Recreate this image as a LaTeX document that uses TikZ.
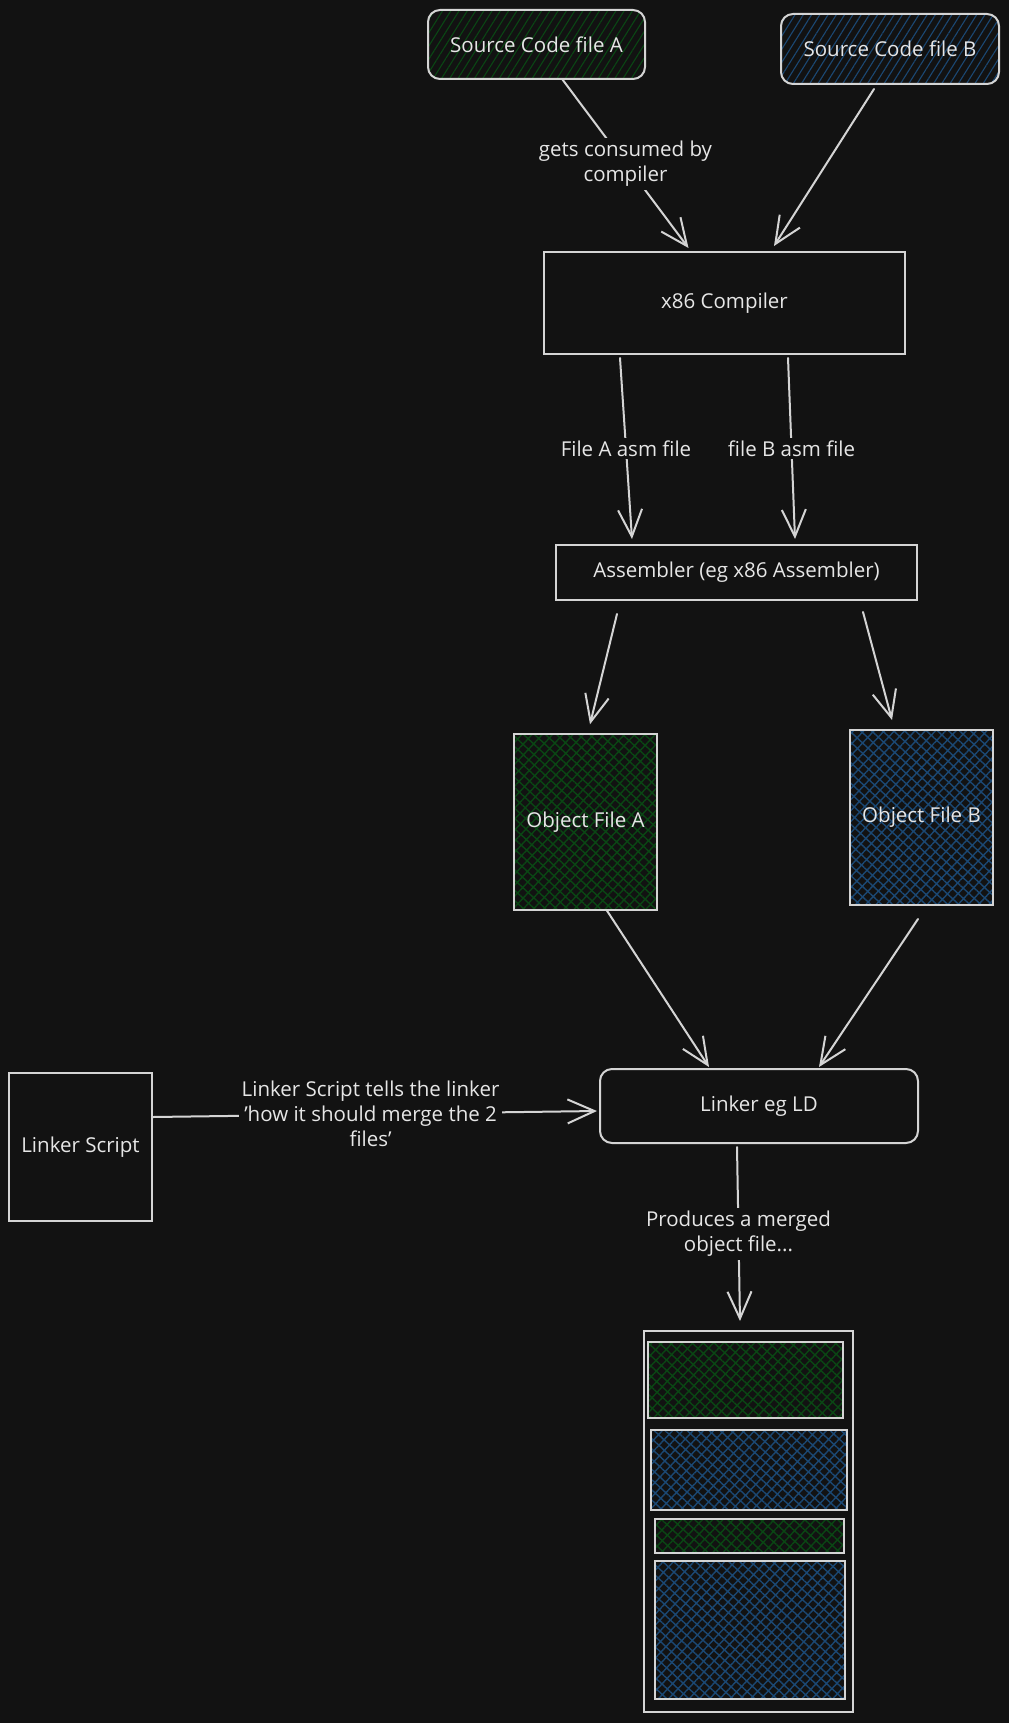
\documentclass[tikz,border=0pt]{standalone}
\usepackage{fontspec}
\setmainfont{Open Sans}
\usetikzlibrary{arrows.meta,patterns.meta,calc}
\definecolor{bgc}{HTML}{121212}
\definecolor{strk}{HTML}{D4D4D4}
\definecolor{txt}{HTML}{E6E6E6}
\definecolor{hgreen}{HTML}{0A4614}
\definecolor{hblue}{HTML}{1B4873}
\tikzset{
  box/.style={draw=strk, line width=2pt, text=txt, inner sep=0pt,
    font=\fontsize{20.5}{25}\selectfont, align=center},
  rbox/.style={box, rounded corners=12pt},
  linesgreen/.style={pattern={Lines[angle=58,distance=7pt,line width=1.1pt]}, pattern color=hgreen},
  linesblue/.style={pattern={Lines[angle=58,distance=7pt,line width=1.1pt]}, pattern color=hblue},
  hatchgreen/.style={pattern={Hatch[angle=47,distance=7.5pt,line width=1.4pt]}, pattern color=hgreen},
  hatchblue/.style={pattern={Hatch[angle=47,distance=7.5pt,line width=1.4pt]}, pattern color=hblue},
  arr/.style={draw=strk, line width=2pt, line cap=round,
    -{Straight Barb[length=27pt,width=24pt,line width=2pt]}},
  lbl/.style={fill=bgc, text=txt, inner sep=3pt, align=center,
    font=\fontsize{20.5}{25}\selectfont},
}
\begin{document}
\begin{tikzpicture}[x=1pt,y=-1pt]
\fill[bgc] (0,0) rectangle (1009,1723);
\useasboundingbox (0,0) rectangle (1009,1723);

\node[rbox, linesgreen, minimum width=217pt, minimum height=69pt] (srcA) at (536.5,44.5) {Source Code file A};
\node[rbox, linesblue, minimum width=218pt, minimum height=70pt] (srcB) at (890,49) {Source Code file B};
\node[box, minimum width=361pt, minimum height=102pt] (comp) at (724.5,303) {x86 Compiler};
\node[box, minimum width=361pt, minimum height=55pt] (asm) at (736.5,572.5) {Assembler (eg x86 Assembler)};
\node[box, hatchgreen, minimum width=143pt, minimum height=176pt] (objA) at (585.5,822) {Object File A};
\node[box, hatchblue, minimum width=143pt, minimum height=175pt] (objB) at (921.5,817.5) {Object File B};
\node[rbox, minimum width=318pt, minimum height=74pt] (link) at (759,1106) {Linker eg LD};
\node[box, minimum width=143pt, minimum height=148pt] (lscript) at (80.5,1147) {Linker Script};

\node[box, minimum width=209pt, minimum height=381pt] (merged) at (748.5,1521.5) {};
\node[box, hatchgreen, minimum width=195pt, minimum height=76pt] (m1) at (745.5,1380) {};
\node[box, hatchblue, minimum width=196pt, minimum height=80pt] (m2) at (749,1470) {};
\node[box, hatchgreen, minimum width=189pt, minimum height=34pt] (m3) at (749.5,1536) {};
\node[box, hatchblue, minimum width=190pt, minimum height=138pt] (m4) at (750,1630) {};

\draw[arr] ([xshift=26pt]srcA.south) -- node[lbl, pos=0.5]{gets consumed by\\compiler} ([xshift=-36pt,yshift=3pt]comp.north);
\draw[arr] ([xshift=-16pt,yshift=-4pt]srcB.south) -- ([xshift=49.5pt,yshift=5pt]comp.north);

\draw[arr] ([xshift=-104.5pt,yshift=-3pt]comp.south) -- node[lbl, pos=0.5]{File A asm file} ([xshift=-104.5pt,yshift=5pt]asm.north);
\draw[arr] ([xshift=63.5pt,yshift=-3pt]comp.south) -- node[lbl, pos=0.5]{file B asm file} ([xshift=58.5pt,yshift=5pt]asm.north);

\draw[arr] ([xshift=-119.5pt,yshift=-13pt]asm.south) -- ([xshift=4.5pt,yshift=9pt]objA.north);
\draw[arr] ([xshift=126.5pt,yshift=-11pt]asm.south) -- ([xshift=-29.5pt,yshift=9pt]objB.north);

\draw[arr] ([xshift=21.5pt]objA.south) -- ([xshift=-50pt,yshift=1pt]link.north);
\draw[arr] ([xshift=-3.5pt,yshift=-13pt]objB.south) -- ([xshift=60pt,yshift=1pt]link.north);

\draw[arr] ([yshift=30pt]lscript.east) -- node[lbl, pos=0.49]{Linker Script tells the linker\\'how it should merge the 2\\files'} ([xshift=-2pt,yshift=-5pt]link.west);

\draw[arr] ([xshift=-22pt,yshift=-3pt]link.south) -- node[lbl, pos=0.5]{Produces a merged\\object file...} ([xshift=-8.5pt,yshift=9pt]merged.north);
\end{tikzpicture}
\end{document}
